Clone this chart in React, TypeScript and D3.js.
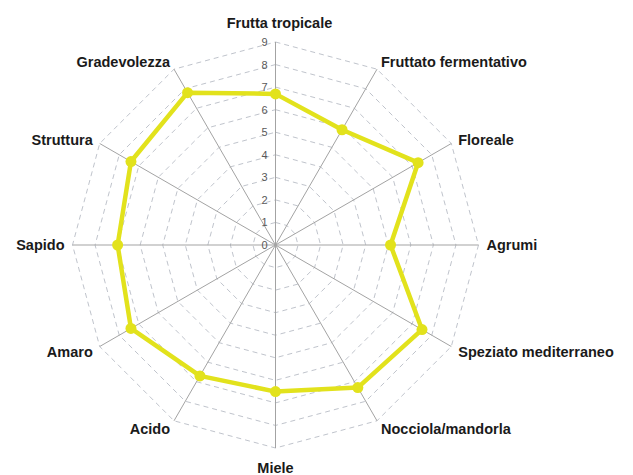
import React from "react";
import * as d3 from "d3";

const categories = [
  "Frutta tropicale",
  "Fruttato fermentativo",
  "Floreale",
  "Agrumi",
  "Speziato mediterraneo",
  "Nocciola/mandorla",
  "Miele",
  "Acido",
  "Amaro",
  "Sapido",
  "Struttura",
  "Gradevolezza",
];
const values = [6.7, 5.9, 7.3, 5.1, 7.5, 7.3, 6.5, 6.7, 7.4, 7.0, 7.4, 7.8];
const ticks = [0, 1, 2, 3, 4, 5, 6, 7, 8, 9];

const W = 633;
const H = 475;
const cx = 275.5;
const cy = 245;
const R = 203;

export default function App() {
  const r = d3.scaleLinear().domain([0, 9]).range([0, R]);
  const angle = d3
    .scaleLinear()
    .domain([0, categories.length])
    .range([0, 2 * Math.PI]);
  const pt = (i: number, v: number): [number, number] => {
    const a = angle(i);
    return [cx + r(v) * Math.sin(a), cy - r(v) * Math.cos(a)];
  };

  const gridLevels = ticks.filter((t) => t > 0);
  const gridPath = (lvl: number) =>
    d3.line()(categories.map((_, i) => pt(i, lvl))) + "Z";

  const dataLine = d3.line().curve(d3.curveLinearClosed)(
    values.map((v, i) => pt(i, v))
  );

  const yellow = "#e2e21c";

  return (
    <svg
      width={W}
      height={H}
      style={{ position: "absolute", left: 0, top: 0, background: "#fff" }}
      fontFamily="'Liberation Sans', Arial, sans-serif"
    >
      {gridLevels.map((lvl) => (
        <path
          key={lvl}
          d={gridPath(lvl)}
          fill="none"
          stroke="#c0c4cc"
          strokeWidth={1}
          strokeDasharray="5,4"
        />
      ))}
      {categories.map((c, i) => {
        const [x, y] = pt(i, 9);
        return (
          <line key={c} x1={cx} y1={cy} x2={x} y2={y} stroke="#a3a3a3" strokeWidth={1} />
        );
      })}
      {ticks.map((t) => (
        <text
          key={t}
          x={cx - 8}
          y={cy - r(t)}
          textAnchor="end"
          dominantBaseline="central"
          fontSize={11}
          fill="#595959"
        >
          {t}
        </text>
      ))}
      <path d={dataLine || ""} fill="none" stroke={yellow} strokeWidth={4.5} strokeLinejoin="round" />
      {values.map((v, i) => {
        const [x, y] = pt(i, v);
        return <circle key={i} cx={x} cy={y} r={5.5} fill={yellow} />;
      })}
      {categories.map((c, i) => {
        const a = angle(i);
        const s = Math.sin(a);
        const co = Math.cos(a);
        const vertical = Math.abs(s) < 0.01;
        const off = vertical ? 19 : 8;
        const x = cx + (R + off) * s + (vertical && co > 0 ? 4 : 0);
        const y = cy - (R + off) * co;
        const anchor = vertical ? "middle" : s > 0 ? "start" : "end";
        return (
          <text
            key={c}
            x={x}
            y={y + (co > 0.1 ? 0 : co < -0.1 ? 1 : 0)}
            textAnchor={anchor}
            dominantBaseline="central"
            fontSize={14.5}
            fontWeight="bold"
            fill="#1a1a1a"
          >
            {c}
          </text>
        );
      })}
    </svg>
  );
}
